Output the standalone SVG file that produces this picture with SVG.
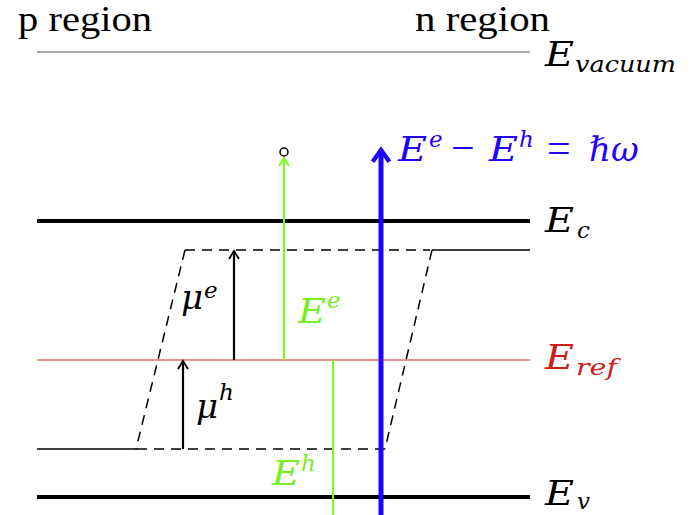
<svg xmlns="http://www.w3.org/2000/svg" width="700" height="515" viewBox="0 0 700 515">
<defs>
<style>
text{font-family:"Liberation Serif","DejaVu Serif",serif;font-size:36px}
.m{font-family:"DejaVu Serif",serif;font-style:italic;font-size:34px}
.sub{font-size:23px}
.op{font-size:42px}
.lvl{stroke:#000;stroke-width:4}
.thin{stroke:#000;stroke-width:1.5}
.dash{stroke:#000;stroke-width:1.5;stroke-dasharray:10,7;fill:none}
</style>
<marker id="ah" viewBox="0 0 12 12" refX="10" refY="6" markerWidth="12" markerHeight="12" markerUnits="userSpaceOnUse" orient="auto"><path d="M2,1 L10,6 L2,11" fill="none" stroke="context-stroke" stroke-width="1.8"/></marker>
<marker id="ahb" viewBox="0 0 12 12" refX="9" refY="6" markerWidth="20" markerHeight="20" markerUnits="userSpaceOnUse" orient="auto"><path d="M2,1 L9,6 L2,11" fill="none" stroke="#1e00ff" stroke-width="2.6"/></marker>
</defs>
<rect width="700" height="515" fill="#fff"/>
<g id="labels">
<text x="18" y="31" font-size="33" textLength="134" lengthAdjust="spacingAndGlyphs">p region</text>
<text x="415" y="31" font-size="33" textLength="135" lengthAdjust="spacingAndGlyphs">n region</text>
</g>
<g id="vacuum"><line x1="37" y1="52" x2="530" y2="52" stroke="#555" stroke-width="1.2"/>
<text x="545" y="66" class="m" textLength="29" lengthAdjust="spacingAndGlyphs">E</text><text x="575" y="72" class="m sub" textLength="101" lengthAdjust="spacingAndGlyphs">vacuum</text></g>
<g id="Ec"><line class="lvl" x1="37" y1="221" x2="530" y2="221"/>
<text x="545" y="232" class="m" textLength="29" lengthAdjust="spacingAndGlyphs">E</text><text x="577" y="238" class="m sub">c</text></g>
<g id="Eref"><line x1="37" y1="360" x2="530" y2="360" stroke="#e02020" stroke-width="1.2"/>
<text x="545" y="369" class="m" fill="#d01c1c" textLength="29" lengthAdjust="spacingAndGlyphs">E</text><text x="576" y="375" class="m sub" fill="#d01c1c" textLength="41" lengthAdjust="spacingAndGlyphs">ref</text></g>
<g id="Ev"><line class="lvl" x1="37" y1="497" x2="530" y2="497"/>
<text x="545" y="505" class="m" textLength="29" lengthAdjust="spacingAndGlyphs">E</text><text x="577" y="509" class="m sub">v</text></g>
<g id="quasi">
<path class="dash" d="M185,250 L430,250"/>
<line class="thin" x1="432" y1="250" x2="530" y2="250"/>
<path class="dash" d="M185,250 L136,449"/>
<path class="dash" d="M432,250 L385,449"/>
<path class="dash" d="M137,449 L385,449"/>
<line class="thin" x1="37" y1="449" x2="137" y2="449"/>
</g>
<g id="connectors">
<line x1="234" y1="360" x2="234" y2="251" stroke="#000" stroke-width="2.2" marker-end="url(#ah)"/>
<line x1="183" y1="449" x2="183" y2="361" stroke="#000" stroke-width="2.2" marker-end="url(#ah)"/>
<line x1="284" y1="360" x2="284" y2="158" stroke="#77ff11" stroke-width="2" marker-end="url(#ah)"/>
<circle cx="284" cy="152" r="4" fill="#fff" stroke="#000" stroke-width="1.5"/>
<line x1="333" y1="360" x2="333" y2="515" stroke="#77ff11" stroke-width="2"/>
<line x1="381" y1="515" x2="381" y2="150" stroke="#1e00ff" stroke-width="5" marker-end="url(#ahb)"/>
</g>
<g id="mlabels">
<text x="181" y="309" class="m">μ</text><text x="204" y="298" class="m sub">e</text>
<text x="196" y="418" class="m">μ</text><text x="219" y="400" class="m sub">h</text>
<text x="298" y="323" class="m" fill="#77ee22" textLength="28" lengthAdjust="spacingAndGlyphs">E</text><text x="327" y="308" class="m sub" fill="#77ee22">e</text>
<text x="272" y="485" class="m" fill="#77ee22" textLength="28" lengthAdjust="spacingAndGlyphs">E</text><text x="301" y="471" class="m sub" fill="#77ee22">h</text>
<g fill="#1e00ff">
<text x="398" y="161" class="m" textLength="29" lengthAdjust="spacingAndGlyphs">E</text><text x="429" y="147" class="m sub">e</text>
<text x="451" y="162" class="op">−</text>
<text x="489" y="161" class="m" textLength="29" lengthAdjust="spacingAndGlyphs">E</text><text x="519" y="147" class="m sub">h</text>
<text x="547" y="162" class="op">=</text>
<text x="589" y="161" class="m">ℏω</text>
</g>
</g>
</svg>
